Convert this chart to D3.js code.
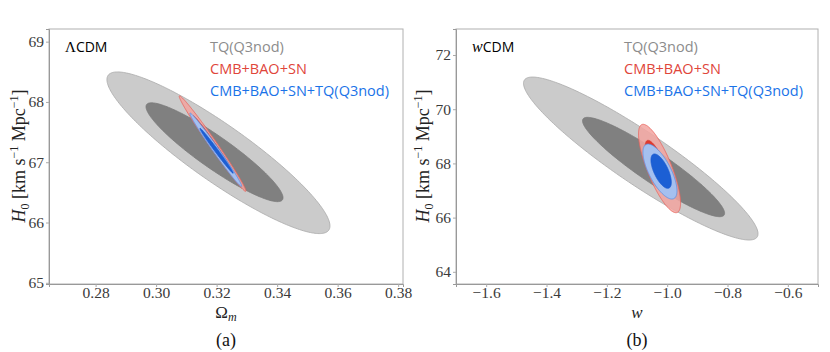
<!DOCTYPE html>
<html>
<head>
<meta charset="utf-8">
<script src="https://cdn.jsdelivr.net/npm/d3@7"></script>
<style>
  body { margin: 0; background: #fff; }
</style>
</head>
<body>
<div id="chart"></div>
<script>
// contour ellipses: centre (cx, cy), half extents along x / y (ax, ay), correlation rho
var lcdmTQ = [
    { level: 95, cx: 0.3206, cy: 67.157, ax: 0.03686, ay: 1.341, rho: -0.905 },
    { level: 68, cx: 0.3193, cy: 67.166, ax: 0.02264, ay: 0.820, rho: -0.92 }
]
var lcdmCBS = [
    { level: 95, cx: 0.31866, cy: 67.309, ax: 0.01102, ay: 0.792, rho: -0.99 },
    { level: 68, cx: 0.3190, cy: 67.28, ax: 0.0068, ay: 0.49, rho: -0.99 }
]
var lcdmAll = [
    { level: 95, cx: 0.31971, cy: 67.207, ax: 0.00855, ay: 0.608, rho: -0.99 },
    { level: 68, cx: 0.31998, cy: 67.19, ax: 0.0055, ay: 0.372, rho: -0.992 }
]
var wcdmTQ = [
    { level: 95, cx: -1.0875, cy: 68.18, ax: 0.3887, ay: 3.007, rho: -0.923 },
    { level: 68, cx: -1.0451, cy: 67.867, ax: 0.2355, ay: 1.833, rho: -0.93 }
]
var wcdmCBS = [
    { level: 95, cx: -1.0253, cy: 67.812, ax: 0.0697, ay: 1.631, rho: -0.78 },
    { level: 68, cx: -1.03, cy: 67.85, ax: 0.0427, ay: 1.0, rho: -0.78 }
]
var wcdmAll = [
    { level: 95, cx: -1.0239, cy: 67.70, ax: 0.0564, ay: 1.015, rho: -0.70 },
    { level: 68, cx: -1.02, cy: 67.714, ax: 0.0337, ay: 0.633, rho: -0.65 }
]

var lcdmXTicks = [0.28, 0.30, 0.32, 0.34, 0.36, 0.38]
var lcdmYTicks = [65, 66, 67, 68, 69]
var wcdmXTicks = [-1.6, -1.4, -1.2, -1.0, -0.8, -0.6]
var wcdmYTicks = [64, 66, 68, 70, 72]

var legendLabels = ["TQ(Q3nod)", "CMB+BAO+SN", "CMB+BAO+SN+TQ(Q3nod)"]
var legendColors = ["#8c8c8c", "#e0453a", "#1a73e8"]

var styles = {
    gray: { 95: ["#cbcbcb", "#a9a9a9", 1], 68: ["#808080", "#7a7a7a", 1] },
    red: { 95: ["#f2a5a0", "#e8625a", 0.85], 68: ["#e0392e", "#d83a30", 1] },
    blue: { 95: ["#a5c0ef", "#5b8fe2", 1], 68: ["#1c5fd4", "#1a5ad0", 1] }
}

var SERIF = "'Liberation Serif', 'DejaVu Serif', serif"
var SANS = "'Open Sans', 'DejaVu Sans', sans-serif"

var width = 830, height = 352

var svg = d3.select("#chart").append("svg")
    .attr("width", width)
    .attr("height", height)

var drawPanel = (opt) => {
    var x = d3.scaleLinear().domain(opt.xDomain).range([opt.left, opt.right])
    var y = d3.scaleLinear().domain(opt.yDomain).range([284, 29])

    var g = svg.append("g")

    var line = d3.line().curve(d3.curveLinearClosed)

    var drawSet = (set, st) => {
        set.forEach(e => {
            var pts = d3.range(0, 2 * Math.PI, Math.PI / 120).map(t => {
                var px = e.cx + e.ax * Math.cos(t)
                var py = e.cy + e.ay * (e.rho * Math.cos(t) + Math.sqrt(1 - e.rho * e.rho) * Math.sin(t))
                return [x(px), y(py)]
            })
            g.append("path")
                .attr("d", line(pts))
                .attr("fill", st[e.level][0])
                .attr("fill-opacity", st[e.level][2])
                .attr("stroke", st[e.level][1])
                .attr("stroke-width", 0.8)
        })
    }
    drawSet(opt.tq, styles.gray)
    drawSet(opt.cbs, styles.red)
    drawSet(opt.all, styles.blue)

    // frame
    g.append("rect")
        .attr("x", opt.left).attr("y", 29)
        .attr("width", opt.right - opt.left).attr("height", 284 - 29)
        .attr("fill", "none").attr("stroke", "#b0b0b0").attr("stroke-width", 1)

    var xAxis = g.append("g")
        .attr("transform", "translate(0,284)")
        .call(d3.axisBottom(x).tickValues(opt.xTicks).tickSize(3).tickPadding(0)
            .tickFormat(d => d3.format(opt.xFmt)(d).replace("-", "\u2212")))
    var yAxis = g.append("g")
        .attr("transform", "translate(" + opt.left + ",0)")
        .call(d3.axisLeft(y).tickValues(opt.yTicks).tickSize(3).tickPadding(2).tickFormat(d3.format("d")))

    ;[xAxis, yAxis].forEach(a => {
        a.select(".domain").attr("stroke", "#999")
        a.selectAll(".tick line").attr("stroke", "#aaa")
        a.selectAll(".tick text")
            .style("font-family", SERIF)
            .style("font-size", "15.5px")
            .attr("fill", "#3a3a3a")
    })

    // model label
    var lab = g.append("text")
        .attr("x", opt.left + 16).attr("y", 52)
        .style("font-size", "14px")
        .style("font-family", SANS)
    if (opt.model == "LCDM") {
        lab.append("tspan").text("\u039b").style("font-family", SERIF).style("font-size", "15px")
        lab.append("tspan").text("CDM")
    } else {
        lab.append("tspan").text("w").style("font-family", SERIF).style("font-style", "italic").style("font-size", "16px")
        lab.append("tspan").text("CDM")
    }

    // legend
    g.append("g").selectAll("text")
        .data(legendLabels)
        .enter()
        .append("text")
        .attr("x", opt.legendX)
        .attr("y", (d, i) => 52 + i * 21.8)
        .attr("fill", (d, i) => legendColors[i])
        .style("font-family", SANS)
        .style("font-size", "14.5px")
        .text(d => d)

    // y label
    var yl = g.append("text")
        .attr("transform", "translate(" + opt.yLabelX + ",156) rotate(-90)")
        .attr("text-anchor", "middle")
        .style("font-family", SERIF)
        .style("font-size", "18px")
        .attr("fill", "#222")
    yl.append("tspan").text("H").style("font-style", "italic")
    yl.append("tspan").text("0").attr("dy", 4).style("font-size", "12px")
    yl.append("tspan").text(" [km s").attr("dy", -4)
    yl.append("tspan").text("\u22121").attr("dy", -7).style("font-size", "12px")
    yl.append("tspan").text(" Mpc").attr("dy", 7)
    yl.append("tspan").text("\u22121").attr("dy", -7).style("font-size", "12px")
    yl.append("tspan").text("]").attr("dy", 7)

    // x label
    var xl = g.append("text")
        .attr("x", (opt.left + opt.right) / 2).attr("y", 318)
        .attr("text-anchor", "middle")
        .style("font-family", SERIF)
        .style("font-size", "17px")
        .attr("fill", "#222")
    if (opt.model == "LCDM") {
        xl.append("tspan").text("\u03a9")
        xl.append("tspan").text("m").attr("dy", 3).style("font-size", "12px").style("font-style", "italic")
    } else {
        xl.append("tspan").text("w").style("font-style", "italic")
    }

    g.append("text")
        .attr("x", (opt.left + opt.right) / 2).attr("y", 346)
        .attr("text-anchor", "middle")
        .style("font-family", SERIF)
        .style("font-size", "18px")
        .attr("fill", "#111")
        .text(opt.caption)
}

drawPanel({
    model: "LCDM", left: 49, right: 403,
    xDomain: [0.2646, 0.3816], yDomain: [64.98, 69.21],
    xTicks: lcdmXTicks, yTicks: lcdmYTicks, xFmt: ".2f",
    tq: lcdmTQ, cbs: lcdmCBS, all: lcdmAll,
    legendX: 210, yLabelX: 25, caption: "(a)"
})
drawPanel({
    model: "wCDM", left: 456, right: 818,
    xDomain: [-1.7, -0.5], yDomain: [63.55, 72.96],
    xTicks: wcdmXTicks, yTicks: wcdmYTicks, xFmt: ".1f",
    tq: wcdmTQ, cbs: wcdmCBS, all: wcdmAll,
    legendX: 624, yLabelX: 429, caption: "(b)"
})
</script>
</body>
</html>
